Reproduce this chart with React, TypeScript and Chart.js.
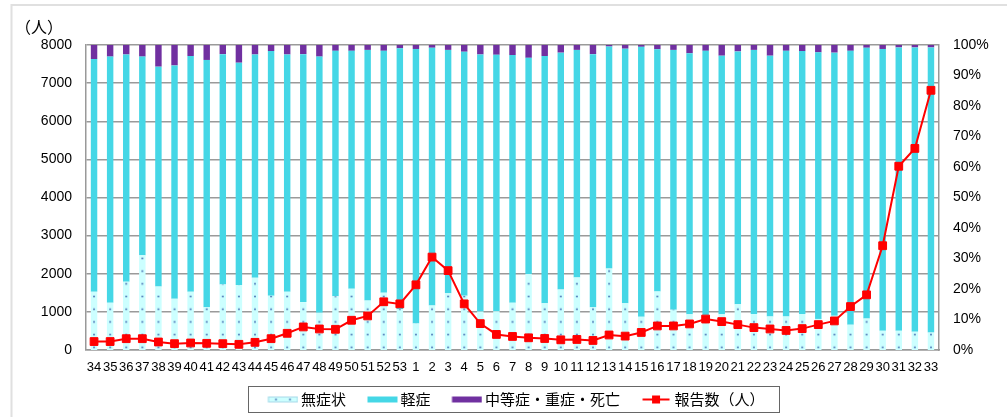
import React, { useEffect, useRef } from 'react';
import { Chart, registerables } from 'chart.js';

Chart.register(...registerables);

const weeks = [
  '34', '35', '36', '37', '38', '39', '40', '41', '42', '43', '44', '45', '46', '47', '48', '49', '50', '51', '52', '53',
  '1', '2', '3', '4', '5', '6', '7', '8', '9', '10', '11', '12', '13', '14', '15', '16', '17', '18', '19', '20',
  '21', '22', '23', '24', '25', '26', '27', '28', '29', '30', '31', '32', '33',
];

// 報告数（人）
const reported = [
  222, 222, 297, 297, 210, 166, 184, 175, 166, 149, 201, 297, 438, 605, 552, 543, 780, 894, 1265, 1210,
  1710, 2437, 2082, 1210, 692, 408, 355, 320, 302, 267, 276, 250, 394, 364, 460, 631, 631, 684, 812, 745,
  666, 587, 552, 513, 561, 666, 763, 1140, 1447, 2735, 4820, 5287, 6812,
];

// 無症状 (%)
const asymptomaticPct = [
  19.1, 15.5, 22.4, 31.1, 20.8, 16.8, 19.1, 14.0, 21.5, 21.3, 23.7, 17.8, 19.1, 15.7, 12.2, 17.6, 20.1, 16.2, 18.8, 13.4,
  8.7, 14.6, 18.6, 17.8, 12.6, 12.7, 15.5, 24.9, 15.3, 19.8, 23.8, 14.0, 26.7, 15.3, 10.9, 19.2, 13.2, 11.7, 11.5, 11.7,
  15.0, 11.8, 11.0, 11.0, 11.8, 10.2, 11.2, 8.3, 10.3, 6.3, 6.3, 6.0, 5.7,
];

// 軽症 (%)
const mildPct = [
  76.3, 80.7, 74.5, 65.1, 72.1, 76.5, 77.3, 81.1, 75.5, 72.9, 73.2, 80.2, 77.8, 81.3, 84.0, 80.5, 78.0, 82.2, 79.3, 85.5,
  90.0, 84.5, 79.8, 80.0, 84.3, 84.1, 81.2, 70.9, 81.1, 77.7, 74.6, 83.0, 72.8, 83.5, 88.5, 79.4, 85.2, 85.6, 86.6, 84.8,
  82.9, 86.6, 85.5, 87.1, 86.2, 87.4, 86.3, 89.8, 88.8, 92.4, 92.9, 93.2, 93.5,
];

// 中等症・重症・死亡 (%)
const severePct = [
  4.6, 3.8, 3.1, 3.8, 7.1, 6.7, 3.6, 4.9, 3.0, 5.8, 3.1, 2.0, 3.1, 3.0, 3.8, 1.9, 1.9, 1.6, 1.9, 1.1,
  1.3, 0.9, 1.6, 2.2, 3.1, 3.2, 3.3, 4.2, 3.6, 2.5, 1.6, 3.0, 0.5, 1.2, 0.6, 1.4, 1.6, 2.7, 1.9, 3.5,
  2.1, 1.6, 3.5, 1.9, 2.0, 2.4, 2.5, 1.9, 0.9, 1.3, 0.8, 0.8, 0.8,
];

const seriesLabels = ['無症状', '軽症', '中等症・重症・死亡', '報告数（人）'];
const leftAxisTitle = '（人）';

const LIGHT = '#CCFFFF';
const DOT = '#3F68B0';
const CYAN = '#45D7E6';
const PURPLE = '#7030A0';
const RED = '#FF0000';

// legend swatch geometry
const SW_BOX = 36; // pointStyleWidth (box slot)
const SW_IMG = 46; // image width, centred on the box slot
const SW_X = 15.5; // swatch start inside image
const SW_W = 30; // visible swatch width

let patternCache: { key: string; pattern: CanvasPattern | string } | null = null;

function asymFill(chart: any): CanvasPattern | string {
  const area = chart.chartArea;
  if (!area) return LIGHT;
  const key = `${area.left}-${area.right}-${area.bottom}`;
  if (patternCache && patternCache.key === key) return patternCache.pattern;
  const step = (area.right - area.left) / weeks.length;
  const tile = document.createElement('canvas');
  tile.width = 16;
  tile.height = 13;
  const t = tile.getContext('2d')!;
  t.fillStyle = LIGHT;
  t.fillRect(0, 0, 16, 13);
  t.fillStyle = DOT;
  t.beginPath();
  t.arc(8, 6.5, 0.9, 0, Math.PI * 2);
  t.fill();
  const p = chart.ctx.createPattern(tile, 'repeat') as CanvasPattern;
  const sy = 12.7 / 13;
  p.setTransform(new DOMMatrix().translate(area.left, area.bottom - 2.7 - 6.5 * sy).scale(step / 16, sy));
  patternCache = { key, pattern: p };
  return p;
}

function makeSwatch(kind: number): HTMLCanvasElement {
  const c = document.createElement('canvas');
  c.width = SW_IMG;
  c.height = 10;
  const g = c.getContext('2d')!;
  const x0 = SW_X;
  if (kind === 0) {
    g.fillStyle = LIGHT;
    g.fillRect(x0, 2, SW_W, 6);
    g.strokeStyle = '#A8D8E8';
    g.lineWidth = 1;
    g.strokeRect(x0 + 0.5, 2.5, SW_W - 1, 5);
    g.fillStyle = DOT;
    g.beginPath();
    g.arc(x0 + 8, 5, 0.9, 0, Math.PI * 2);
    g.arc(x0 + 22, 5, 0.9, 0, Math.PI * 2);
    g.fill();
  } else if (kind === 1) {
    g.fillStyle = CYAN;
    g.fillRect(x0, 2, SW_W, 6);
  } else if (kind === 2) {
    g.fillStyle = PURPLE;
    g.fillRect(x0, 2, SW_W, 6);
  } else {
    g.strokeStyle = RED;
    g.lineWidth = 2;
    g.beginPath();
    g.moveTo(x0 + 1, 5);
    g.lineTo(x0 + 28, 5);
    g.stroke();
    g.fillStyle = RED;
    g.fillRect(x0 + 10.5, 1, 8, 8);
  }
  return c;
}

const decorPlugin = {
  id: 'decor',
  beforeDraw(chart: any) {
    const ctx = chart.ctx;
    ctx.save();
    ctx.strokeStyle = '#E0E0E0';
    ctx.lineWidth = 2;
    ctx.beginPath();
    ctx.moveTo(11.5, chart.height);
    ctx.lineTo(11.5, 5);
    ctx.lineTo(chart.width, 5);
    ctx.stroke();
    ctx.restore();
  },
  afterDraw(chart: any) {
    const ctx = chart.ctx;
    ctx.save();
    ctx.fillStyle = '#000';
    ctx.font = "16px 'Noto Sans CJK JP'";
    ctx.textBaseline = 'middle';
    ctx.textAlign = 'left';
    ctx.fillText(leftAxisTitle, 15, 27);
    const hb = chart.legend && chart.legend.legendHitBoxes;
    if (hb && hb.length) {
      const first = hb[0];
      const last = hb[hb.length - 1];
      const swatchLeft = first.left + SW_BOX / 2 - SW_IMG / 2 + SW_X;
      const left = swatchLeft - 20;
      const right = last.left + last.width + 14;
      const cy = first.top + first.height / 2;
      ctx.strokeStyle = '#666';
      ctx.lineWidth = 1;
      ctx.strokeRect(Math.round(left) + 0.5, Math.round(cy - 14) + 0.5, Math.round(right - left), 26);
    }
    ctx.restore();
  },
};

export default function App() {
  const canvasRef = useRef<HTMLCanvasElement | null>(null);

  useEffect(() => {
    document.body.style.margin = '0';
    const canvas = canvasRef.current;
    if (!canvas) return;
    const swatches = [0, 1, 2, 3].map(makeSwatch);
    const tickFont = { family: "'Liberation Sans', Arial, sans-serif", size: 14 };

    const chart = new Chart(canvas, {
      type: 'bar',
      data: {
        labels: weeks,
        datasets: [
          {
            type: 'line',
            label: seriesLabels[3],
            data: reported,
            yAxisID: 'y',
            borderColor: RED,
            backgroundColor: RED,
            borderWidth: 2,
            pointStyle: 'rect',
            pointRadius: 5.5,
            pointBorderWidth: 1,
            tension: 0,
            order: 0,
          } as any,
          {
            type: 'bar',
            label: seriesLabels[0],
            data: asymptomaticPct,
            yAxisID: 'y2',
            backgroundColor: (c: any) => asymFill(c.chart),
            barPercentage: 0.4,
            categoryPercentage: 1,
            borderWidth: 0,
            order: 1,
          },
          {
            type: 'bar',
            label: seriesLabels[1],
            data: mildPct,
            yAxisID: 'y2',
            backgroundColor: CYAN,
            barPercentage: 0.4,
            categoryPercentage: 1,
            borderWidth: 0,
            order: 1,
          },
          {
            type: 'bar',
            label: seriesLabels[2],
            data: severePct,
            yAxisID: 'y2',
            backgroundColor: PURPLE,
            barPercentage: 0.4,
            categoryPercentage: 1,
            borderWidth: 0,
            order: 1,
          },
        ],
      },
      options: {
        responsive: false,
        animation: false,
        layout: { padding: { top: 45, left: 15, right: 0, bottom: 0 } },
        plugins: {
          tooltip: { enabled: false },
          legend: {
            position: 'bottom',
            labels: {
              usePointStyle: true,
              pointStyleWidth: SW_BOX,
              boxHeight: 10,
              padding: 11,
              color: '#000',
              font: { family: "'Noto Sans CJK JP', sans-serif", size: 15 },
              generateLabels(ch: any) {
                const items = (Chart.defaults.plugins.legend.labels as any).generateLabels(ch);
                const sorted = seriesLabels
                  .map((name) => items.find((it: any) => it.text === name))
                  .filter(Boolean);
                sorted.forEach((it: any, i: number) => {
                  it.pointStyle = swatches[i];
                  it.lineWidth = 0;
                });
                return sorted;
              },
            },
          },
        },
        scales: {
          x: {
            stacked: true,
            offset: true,
            grid: { display: false, drawTicks: false },
            border: { display: true, color: '#999', width: 1.5 },
            ticks: {
              autoSkip: false,
              maxRotation: 0,
              minRotation: 0,
              padding: 10,
              color: '#000',
              font: { family: "'Liberation Sans', Arial, sans-serif", size: 13 },
            },
            afterFit(s: any) {
              s.height = 31;
            },
          },
          y: {
            position: 'left',
            min: 0,
            max: 8000,
            ticks: {
              stepSize: 1000,
              padding: 14,
              color: '#000',
              font: tickFont,
              callback: (v: any) => String(v),
            },
            grid: { color: '#9A9A9A', lineWidth: 1.5, drawTicks: false },
            border: { display: true, color: '#999', width: 1.5 },
            afterFit(s: any) {
              s.width = 71;
            },
          },
          y2: {
            position: 'right',
            stacked: true,
            min: 0,
            max: 100,
            ticks: {
              stepSize: 10,
              padding: 14,
              color: '#000',
              font: tickFont,
              callback: (v: any) => `${v}%`,
            },
            grid: { display: false, drawTicks: false },
            border: { display: true, color: '#999', width: 1.5 },
            afterFit(s: any) {
              s.width = 68;
            },
          },
        },
      },
      plugins: [decorPlugin],
    });

    return () => {
      chart.destroy();
      patternCache = null;
    };
  }, []);

  return (
    <div style={{ width: 1007, height: 417 }}>
      <canvas ref={canvasRef} width={1007} height={417} />
    </div>
  );
}
